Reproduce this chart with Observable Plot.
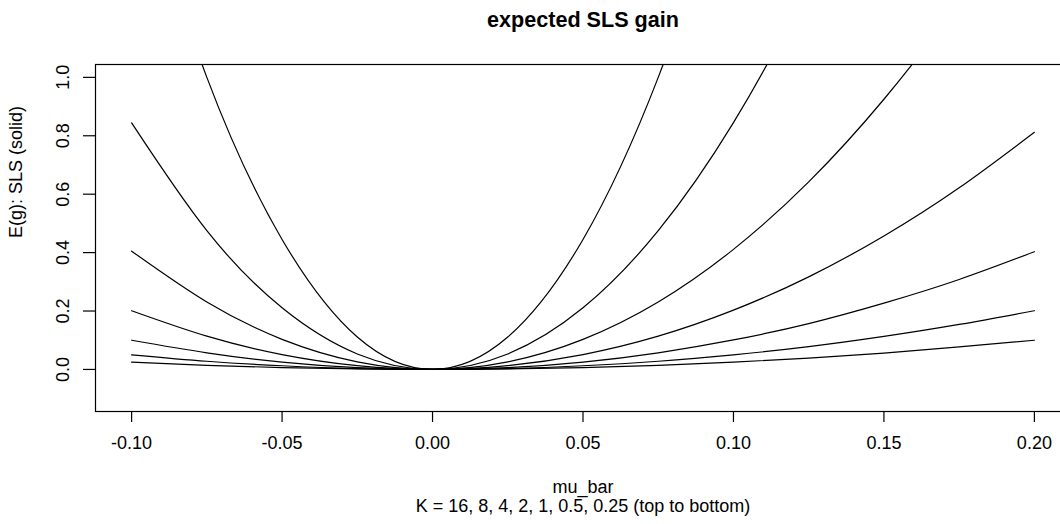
<!DOCTYPE html>
<html><head><meta charset="utf-8">
<script src="https://cdn.jsdelivr.net/npm/d3@7"></script>
<script src="https://cdn.jsdelivr.net/npm/@observablehq/plot@0.6"></script>
<style>
html,body{margin:0;padding:0;overflow:hidden;background:#fff;width:1060px;height:524px}
#chart{width:1060px;height:524px;overflow:hidden}
#chart svg{display:block;max-width:none !important;width:1070px !important;height:524px !important}
</style></head><body><div id="chart"></div>
<script>
// mu_bar sample positions (x)
const muBar = [-0.1, -0.075, -0.05, -0.025, 0, 0.025, 0.05, 0.075, 0.1, 0.125, 0.15, 0.175, 0.2];
// K values, top to bottom
const kValues = [16, 8, 4, 2, 1, 0.5, 0.25];
// expected SLS gain, one array per K
const gK16  = [1.78, 1.00, 0.445, 0.111, 0, 0.111, 0.445, 1.00, 1.78, 2.78, 4.00, 5.45, 7.12];
const gK8   = [0.844, 0.475, 0.211, 0.053, 0, 0.053, 0.211, 0.475, 0.845, 1.32, 1.90, 2.59, 3.38];
const gK4   = [0.405, 0.231, 0.103, 0.026, 0, 0.026, 0.103, 0.231, 0.411, 0.642, 0.925, 1.26, 1.64];
const gK2   = [0.201, 0.114, 0.051, 0.013, 0, 0.013, 0.051, 0.114, 0.203, 0.317, 0.457, 0.622, 0.812];
const gK1   = [0.100, 0.057, 0.025, 0.006, 0, 0.006, 0.025, 0.057, 0.101, 0.157, 0.227, 0.308, 0.403];
const gK05  = [0.050, 0.028, 0.0126, 0.0031, 0, 0.0031, 0.0126, 0.028, 0.050, 0.078, 0.113, 0.154, 0.201];
const gK025 = [0.025, 0.014, 0.0063, 0.0016, 0, 0.0016, 0.0063, 0.014, 0.025, 0.039, 0.056, 0.077, 0.100];
// ticks and texts
const xTicks = [-0.10, -0.05, 0.00, 0.05, 0.10, 0.15, 0.20];
const yTicks = [0.0, 0.2, 0.4, 0.6, 0.8, 1.0];
const titleText = "expected SLS gain";
const xLabelText = "mu_bar";
const subLabelText = "K = 16, 8, 4, 2, 1, 0.5, 0.25 (top to bottom)";
const yLabelText = "E(g): SLS (solid)";

const series = [gK16, gK8, gK4, gK2, gK1, gK05, gK025];
const rows = series.flatMap((vals, i) => vals.map((g, j) => ({K: kValues[i], mu: muBar[j], g})));

const font = "'Liberation Sans', Arial, Helvetica, sans-serif";
const plot = Plot.plot({
  width: 1070, height: 524,
  marginTop: 64, marginBottom: 113, marginLeft: 95, marginRight: 0,
  style: {fontFamily: font, fontSize: "18px", color: "black", background: "white", maxWidth: "none"},
  x: {domain: [-0.112, 0.212]},
  y: {domain: [-0.144, 1.044]},
  marks: [
    Plot.line(rows, {x: "mu", y: "g", z: "K", stroke: "black", strokeWidth: 1.2, curve: "natural", clip: true}),
    Plot.frame({stroke: "black", strokeWidth: 1.2}),
    Plot.axisX({ticks: xTicks, tickSize: 11, tickPadding: 14, tickFormat: d => d.toFixed(2), label: null, stroke: "black", strokeWidth: 1.2, fill: "black"}),
    Plot.axisY({ticks: yTicks, tickSize: 12, tickFormat: () => "", label: null, stroke: "black", strokeWidth: 1.2}),
    Plot.text(yTicks, {y: d => d, frameAnchor: "left", dx: -32, rotate: -90, text: d => d.toFixed(1), textAnchor: "middle", lineAnchor: "middle", fill: "black"}),
    Plot.text([titleText], {frameAnchor: "top", dy: -44, text: d => d, fontWeight: "bold", fontSize: 21.6, lineAnchor: "middle", fill: "black"}),
    Plot.text([xLabelText], {frameAnchor: "bottom", dy: 76, text: d => d, lineAnchor: "middle", fill: "black"}),
    Plot.text([subLabelText], {frameAnchor: "bottom", dy: 95, text: d => d, lineAnchor: "middle", fill: "black"}),
    Plot.text([yLabelText], {frameAnchor: "left", dx: -79, rotate: -90, text: d => d, lineAnchor: "middle", fill: "black"})
  ]
});
document.getElementById("chart").appendChild(plot);
</script></body></html>
